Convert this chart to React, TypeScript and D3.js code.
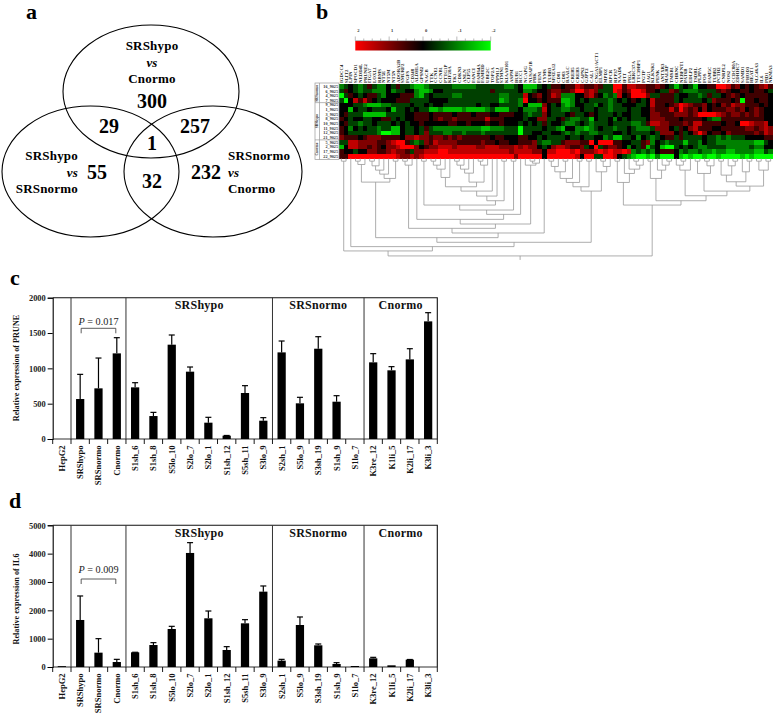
import React, { useEffect, useRef } from 'react';
import * as d3 from 'd3';

const SERIF = '"Liberation Serif", "Times New Roman", serif';
const CATEGORIES = ['HepG2', 'SRShypo', 'SRSnormo', 'Cnormo', 'S1sh_6', 'S1sh_8', 'S5lo_10', 'S2lo_7', 'S2lo_1', 'S1sh_12', 'S5sh_11', 'S3lo_9', 'S2sh_1', 'S5lo_9', 'S3sh_19', 'S1sh_9', 'S1lo_7', 'K3re_12', 'K1li_5', 'K2li_17', 'K3li_3'];
const PRUNE_VALUES = [0, 566, 717, 1212, 731, 325, 1335, 953, 231, 47, 651, 259, 1226, 505, 1278, 528, 0, 1085, 972, 1127, 1665];
const PRUNE_ERR_TOP = [0, 915, 1146, 1434, 797, 377, 1472, 1019, 307, 50, 755, 302, 1387, 590, 1448, 613, 0, 1208, 1024, 1278, 1788];
const IL6_VALUES = [30, 1659, 506, 176, 518, 776, 1341, 4024, 1718, 600, 1541, 2659, 224, 1482, 765, 106, 35, 306, 59, 259, 0];
const IL6_ERR_TOP = [30, 2506, 1000, 270, 520, 859, 1435, 4388, 1976, 718, 1670, 2859, 270, 1765, 812, 153, 35, 341, 59, 265, 0];
const DIVIDERS = [1, 4, 12, 17];
const GROUPS = [
  { label: 'SRShypo', from: 4, to: 12 },
  { label: 'SRSnormo', from: 12, to: 17 },
  { label: 'Cnormo', from: 17, to: 21 },
];

const HEAT_COLUMNS = ['IGDCC4', 'SLIT2', 'LPIN', 'SPOCD1', 'NEDD4L', 'PRUNE2', 'ITGA7', 'LOXL1', 'RBMS', 'NT5E', 'NT5M', 'NT5N', 'ADORA2B', 'SMURF2', 'FGFS', 'CD248', 'ALDH1A', 'GPSM2', 'NACB', 'TTK', 'CCNE1', 'CCNB1', 'PTTG1P', 'KIF20A', 'TK1', 'CDKN3', 'ANLN', 'CEP55', 'FANCI', 'FAM64A', 'FAM83D', 'UBE2C', 'TOP2A', 'PPM1J', 'STMN1', 'KIAA0101', 'ASPM', 'BUB1', 'RCC1', 'NCAPG', 'NUSAP1B', 'PBK', 'FEN1', 'TYMS', 'TUBB3', 'SPATA12', 'CD81', 'CD83', 'BAALC', 'CREB5', 'CREB3', 'CAPN2', 'GJPT2', 'CAL1', 'CNGA1/ACT1', 'ELMP1', 'MPDZ', 'RPCR', 'RFP37', 'NAAD6', 'IFIT', 'PIGA', 'LRRC37A', 'TTC39BP1', 'PGTP', 'JAG1', 'KLKNK1', 'PENK', 'ANTXR3', 'MALRP', 'TMSB1', 'CHRNC', 'NEBFNT1', 'PAT6B', 'EDLP2', 'TSDBL', 'PLPPA', 'FOS', 'FAM5C', 'TUBB2', 'PCTH2', 'CNRPL2', 'NOS2', 'CCDC80A', 'ZDHHC7', 'SAMD1', 'FHOD3', 'HEAT1', 'SLC46A3', 'IL6', 'PID1', 'NKMA3'];
const HEAT_ROW_LABELS = ['16_9025', '6_9025', '4_9025', '7_9025', '9_9025', '1_9025', '3_9025', '8_9025', '10_9025', '11_9025', '12_9025', '21_9025', '5_9025', '2_9025', '17_9025', '22_9025'];
// one digit per cell, 0 = -2 (green), 4 = 0 (black), 8 = +2 (red)
const HEAT_ROWS = [
  '2343235322 4353321123 3333222223 3333322341 1134355455 7655653388 5776655654 3134314455 8875645456 75',
  '3543233222 4233442112 4433333333 3353333342 2344566556 8867633387 5688755433 6532223333 5654455455 43',
  '0354345532 4445552134 3333223333 3333223337 4564576222 4467542327 4588863355 5344332353 3456545555 54',
  '3047575434 4455533334 4443333333 3333123328 4454555112 4343333234 3454347555 5343333436 5554505545 54',
  '4443321112 2333343343 4433333334 3344333324 1116434212 4433243233 4443347554 5687655645 4657665554 54',
  '4414334333 4133434331 1211112111 1231113342 2237433223 3433433233 3433446555 7586564645 5566564565 44',
  '4533311111 3333445554 5555455545 5544555443 2336433345 3345433343 4433446655 5666568888 7656656565 44',
  '5434433445 5343445554 5655655555 5755544443 4466334532 2331433424 3433346665 5545555432 2555555555 44',
  '4533233433 3434344544 4445544544 4544544434 3435344322 3432333433 3322357766 5556577555 5455488766 74',
  '5424343323 3114334353 2222222222 1122233303 3334332144 2212343323 3432223666 4354675554 4555556656 76',
  '5433333320 0114334363 3322332333 2333333303 3443344323 2332233344 3433334366 6453468645 5465555565 76',
  '6555456665 5554667665 6656565555 5545544455 4434333343 3433442311 3342432345 5353333433 2323334444 55',
  '3377666655 6788532365 7666655555 6554554455 5632233566 6558488855 4433562432 3331332433 2222222211 34',
  '1477665654 6678886456 6777677776 6777666767 6643467765 5634835665 4243513410 0343432233 3322222322 44',
  '5443446655 6766536677 7887777777 7777776777 7664778887 8666787877 8723232455 5423223221 2211222211 32',
  '5588888888 8876676788 8888888888 8888888688 8884888888 7488338874 3210010200 0410100100 1000010100 00',
];
const HEAT_GROUPS = [
  { label: 'SRSnormo', from: 0, to: 4 },
  { label: 'SRShypo', from: 4, to: 12 },
  { label: 'Cnormo', from: 12, to: 16 },
];
const COLOR_TICKS = [2, 1, 0, -1, -2];
const COLOR_MINOR = [1.75, 1.5, 1.25, 0.75, 0.5, 0.25, -0.25, -0.5, -0.75, -1.25, -1.5, -1.75];

// dendrogram: merge distance, left, right (numbers are leaf columns)
type Node = number | { h: number; l: Node; r: Node };
const m = (h: number, l: Node, r: Node): Node => ({ h, l, r });
const LADDER = m(238,
  m(71,
    m(18, m(8, 3, 4), 5),
    m(60, m(47, m(35, m(22, m(8, 6, 7), 8), 9), 10), m(8, 11, 12))),
  m(224,
    m(210,
      m(20, m(8, 13, 14), 15),
      m(197,
        m(183, 16,
          m(168,
            m(155,
              m(140, m(8, 17, 18),
                m(127,
                  m(113,
                    m(98,
                      m(85,
                        m(57, m(32, m(20, m(8, 19, 20), 21), 22), 23),
                        m(71, m(44, m(32, m(20, m(8, 24, 25), 26), 27), 28), m(20, m(8, 29, 30), 31))),
                      32),
                    33),
                  m(8, 34, 35))),
              m(8, 36, 37)),
            38)),
        m(20, 39, m(14, m(8, 40, 41), 42)))),
    43));
const MID_BRANCH = m(98,
  m(85, m(72, m(60, m(40, m(24, m(8, 44, 45), 46), m(8, 47, 48)), 49), m(8, 50, 51)), m(8, 52, 53)),
  m(40, 54, m(24, m(8, 55, 56), 57)));
const GREEN_BRANCH = m(140,
  m(72, m(8, 58, 59), m(45, 60, m(32, 61, m(20, m(8, 62, 63), 64)))),
  m(127,
    m(60, m(8, 65, 66), m(35, 67, m(20, 68, m(8, 69, 70)))),
    m(112,
      m(35, m(20, 71, m(8, 72, 73)), 74),
      m(98,
        m(45, m(8, 75, 76), m(22, m(8, 77, 78), 79)),
        m(83,
          m(70, m(50, m(8, 80, 81), m(22, 82, m(8, 83, 84))), m(40, 85, m(8, 86, 87))),
          m(35, m(8, 88, 89), m(8, 90, 91)))))));
const HEAT_TREE: Node = m(293,
  m(278, m(8, 0, 1), m(265, 2, m(252, LADDER, MID_BRANCH))),
  GREEN_BRANCH);

const VENN_SETS = [
  { cx: 151, cy: 91.5, rx: 88, ry: 66.5 },
  { cx: 90.5, cy: 171.5, rx: 88.5, ry: 65.5 },
  { cx: 213, cy: 171.5, rx: 89, ry: 65.5 },
];
const VENN_COUNTS = [
  { text: '300', x: 152, y: 108, size: 20 },
  { text: '29', x: 109, y: 133, size: 20 },
  { text: '257', x: 195, y: 133, size: 20 },
  { text: '1', x: 152, y: 150, size: 20 },
  { text: '55', x: 97, y: 179, size: 20 },
  { text: '32', x: 152, y: 188, size: 20 },
  { text: '232', x: 206, y: 179, size: 20 },
];
const VENN_LABELS = [
  { text: 'SRShypo', x: 152, y: 50, anchor: 'middle' },
  { text: 'vs', x: 152, y: 67, anchor: 'middle', italic: true },
  { text: 'Cnormo', x: 152, y: 83, anchor: 'middle' },
  { text: 'SRShypo', x: 78, y: 160, anchor: 'end' },
  { text: 'vs', x: 78, y: 177, anchor: 'end', italic: true },
  { text: 'SRSnormo', x: 78, y: 193, anchor: 'end' },
  { text: 'SRSnormo', x: 228, y: 160, anchor: 'start' },
  { text: 'vs', x: 228, y: 177, anchor: 'start', italic: true },
  { text: 'Cnormo', x: 228, y: 193, anchor: 'start' },
];
const PANEL_LETTERS = [
  { text: 'a', x: 26, y: 19 },
  { text: 'b', x: 316, y: 19 },
  { text: 'c', x: 10, y: 285 },
  { text: 'd', x: 9, y: 508 },
];

type Sel = d3.Selection<SVGGElement, unknown, null, undefined>;

function drawVenn(g: Sel) {
  g.selectAll('ellipse').data(VENN_SETS).join('ellipse')
    .attr('cx', d => d.cx).attr('cy', d => d.cy).attr('rx', d => d.rx).attr('ry', d => d.ry)
    .attr('fill', 'none').attr('stroke', '#000').attr('stroke-width', 1.1);
  g.selectAll('text.count').data(VENN_COUNTS).join('text').attr('class', 'count')
    .attr('x', d => d.x).attr('y', d => d.y).attr('text-anchor', 'middle')
    .attr('font-size', d => d.size).attr('font-weight', 'bold').text(d => d.text);
  g.selectAll<SVGTextElement, any>('text.label').data(VENN_LABELS).join('text').attr('class', 'label')
    .attr('x', d => d.x).attr('y', d => d.y).attr('text-anchor', d => d.anchor)
    .attr('font-size', 13).attr('font-weight', 'bold')
    .attr('font-style', (d: any) => (d.italic ? 'italic' : 'normal'))
    .attr('letter-spacing', 0.2)
    .text(d => d.text);
}

function drawHeatmap(g: Sel) {
  const left = 339, right = 773, top = 84, bottom = 158.5;
  const cols = d3.range(HEAT_COLUMNS.length);
  const x = d3.scaleBand<number>().domain(cols).range([left, right]);
  const y = d3.scaleBand<number>().domain(d3.range(HEAT_ROWS.length)).range([top, bottom]);
  const color = d3.scaleLinear<string>().domain([-2, 0, 2]).range(['#00ff00', '#000000', '#ff0000']);

  const cells = HEAT_ROWS.flatMap((row, r) =>
    row.replace(/ /g, '').split('').map((ch, c) => ({ r, c, v: (+ch - 4) / 2 })));
  g.append('g').attr('shape-rendering', 'crispEdges').selectAll('rect').data(cells).join('rect')
    .attr('x', d => x(d.c)!).attr('y', d => y(d.r)!)
    .attr('width', x.bandwidth() + 0.3).attr('height', y.bandwidth() + 0.3)
    .attr('fill', d => color(d.v));

  g.append('g').selectAll('text').data(HEAT_COLUMNS).join('text')
    .attr('transform', (_, i) => `translate(${x(i)! + x.bandwidth() / 2 + 1.6},83) rotate(-90)`)
    .attr('font-size', 4.8).attr('font-weight', 'bold').attr('fill', '#222').text(d => d);

  // row labels and group frame
  const frame = g.append('g').attr('stroke', '#999').attr('stroke-width', 0.7).attr('fill', 'none');
  frame.append('rect').attr('x', 315).attr('y', top - 1).attr('width', left - 315).attr('height', bottom - top + 2);
  frame.append('line').attr('x1', 319.5).attr('x2', 319.5).attr('y1', top - 1).attr('y2', bottom + 1);
  HEAT_GROUPS.slice(1).forEach(gr => {
    frame.append('line').attr('x1', 315).attr('x2', left).attr('y1', y(gr.from)!).attr('y2', y(gr.from)!);
  });
  g.append('g').selectAll('text').data(HEAT_ROW_LABELS).join('text')
    .attr('x', 338).attr('y', (_, i) => y(i)! + y.bandwidth() - 0.8).attr('text-anchor', 'end')
    .attr('font-size', 4.2).attr('font-weight', 'bold').attr('fill', '#333').text(d => d);
  g.append('g').selectAll('text').data(HEAT_GROUPS).join('text')
    .attr('transform', d => `translate(318,${(y(d.from)! + y(d.to - 1)! + y.bandwidth()) / 2}) rotate(-90)`)
    .attr('text-anchor', 'middle').attr('font-size', 3.6).attr('font-weight', 'bold').attr('fill', '#333').text(d => d.label);

  // colour bar
  const bar = d3.scaleLinear().domain([2, -2]).range([355.3, 490.7]);
  const gradId = 'heat-grad';
  const grad = g.append('defs').append('linearGradient').attr('id', gradId);
  COLOR_TICKS.forEach((t, i) => {
    grad.append('stop').attr('offset', i / (COLOR_TICKS.length - 1)).attr('stop-color', color(t));
  });
  g.append('rect').attr('x', bar(2)).attr('y', 41).attr('width', bar(-2) - bar(2)).attr('height', 9.5).attr('fill', `url(#${gradId})`);
  g.append('line').attr('x1', bar(2)).attr('x2', bar(-2)).attr('y1', 40.7).attr('y2', 40.7).attr('stroke', '#777').attr('stroke-width', 0.6);
  g.append('g').selectAll('line').data([...COLOR_TICKS, ...COLOR_MINOR]).join('line')
    .attr('x1', d => bar(d)).attr('x2', d => bar(d)).attr('y1', 40.7)
    .attr('y2', d => (Number.isInteger(d) ? 36.5 : 38.5)).attr('stroke', '#777').attr('stroke-width', 0.5);
  g.append('g').selectAll('text').data(COLOR_TICKS).join('text')
    .attr('x', d => bar(d) + 3).attr('y', 32).attr('text-anchor', 'middle')
    .attr('font-size', 4.5).attr('font-weight', 'bold').attr('fill', '#333').text(d => d);

  // dendrogram
  const dist = d3.scaleLinear().domain([0, 295]).range([158.5, 256.6]);
  const lines = g.append('g').attr('stroke', '#999').attr('stroke-width', 0.8).attr('fill', 'none');
  const layout = (n: Node): { px: number; h: number } => {
    if (typeof n === 'number') return { px: x(n)! + x.bandwidth() / 2, h: 0 };
    const a = layout(n.l), b = layout(n.r);
    const ny = dist(n.h);
    lines.append('path').attr('d', `M${a.px},${dist(a.h)}V${ny}H${b.px}V${dist(b.h)}`);
    return { px: (a.px + b.px) / 2, h: n.h };
  };
  const root = layout(HEAT_TREE);
  lines.append('line').attr('x1', root.px).attr('x2', root.px).attr('y1', dist(root.h)).attr('y2', dist(305));
}

interface BarConfig {
  top: number;
  zero: number;
  max: number;
  ticks: number[];
  values: number[];
  errTop: number[];
  title: string;
  titleY: number;
  pText: string;
  pBaseline: number;
  bracketTop: number;
}

function drawBars(g: Sel, c: BarConfig) {
  const left = 52.7, right = 437.3;
  const x = d3.scaleBand<string>().domain(CATEGORIES).range([left, right]).paddingInner(0.55).paddingOuter(0.275);
  const y = d3.scaleLinear().domain([0, c.max]).range([c.zero, c.top]);
  const step = x.step();
  const boundary = (i: number) => left + i * step;

  const axis = g.append('g').attr('transform', `translate(${left},0)`)
    .call(d3.axisLeft(y).tickValues(c.ticks).tickFormat(d3.format('d') as any).tickSize(5).tickPadding(2));
  axis.select('.domain').attr('stroke', '#000').attr('stroke-width', 1.1);
  axis.selectAll('line').attr('stroke', '#000').attr('stroke-width', 1);
  axis.selectAll('text').attr('font-family', SERIF).attr('font-size', 8.4).attr('font-weight', 'bold').attr('fill', '#222');

  // frame, baseline and group dividers
  g.append('path').attr('d', `M${left},${c.top}H${right}V${c.zero}`).attr('fill', 'none').attr('stroke', '#111').attr('stroke-width', 1.1);
  g.append('line').attr('x1', left).attr('x2', right).attr('y1', c.zero).attr('y2', c.zero).attr('stroke', '#333').attr('stroke-width', 1.1);
  g.selectAll('line.divider').data(DIVIDERS).join('line').attr('class', 'divider')
    .attr('x1', d => boundary(d)).attr('x2', d => boundary(d)).attr('y1', c.top).attr('y2', c.zero)
    .attr('stroke', '#333').attr('stroke-width', 1);
  g.selectAll('line.xtick').data(d3.range(CATEGORIES.length + 1)).join('line').attr('class', 'xtick')
    .attr('x1', d => boundary(d)).attr('x2', d => boundary(d)).attr('y1', c.zero).attr('y2', c.zero + 5)
    .attr('stroke', '#000').attr('stroke-width', 0.9);

  // error bars then bars
  const bw = x.bandwidth();
  const err = g.append('g').attr('stroke', '#000').attr('fill', 'none');
  CATEGORIES.forEach((cat, i) => {
    if (c.errTop[i] <= c.values[i]) return;
    const cx = x(cat)! + bw / 2;
    err.append('path').attr('d', `M${cx},${y(c.values[i])}V${y(c.errTop[i])}`).attr('stroke-width', 1.2);
    err.append('path').attr('d', `M${cx - 3},${y(c.errTop[i])}H${cx + 3}`).attr('stroke-width', 1.2);
  });
  g.selectAll('rect.bar').data(CATEGORIES).join('rect').attr('class', 'bar')
    .attr('x', d => x(d)!).attr('width', bw)
    .attr('y', (_, i) => y(c.values[i])).attr('height', (_, i) => c.zero - y(c.values[i]))
    .attr('fill', '#000');

  g.selectAll('text.cat').data(CATEGORIES).join('text').attr('class', 'cat')
    .attr('transform', d => `translate(${x(d)! + bw / 2 + 3},${c.zero + 6.5}) rotate(-90)`)
    .attr('text-anchor', 'end').attr('font-size', 8.5).attr('font-weight', 'bold').attr('fill', '#111').text(d => d);

  g.selectAll('text.group').data(GROUPS).join('text').attr('class', 'group')
    .attr('x', d => (boundary(d.from) + boundary(d.to)) / 2)
    .attr('y', c.top + 11.5).attr('text-anchor', 'middle')
    .attr('font-size', 12).attr('font-weight', 'bold').attr('letter-spacing', 0.25).attr('fill', '#111').text(d => d.label);

  g.append('text').attr('transform', `translate(19,${c.titleY}) rotate(-90)`)
    .attr('text-anchor', 'middle').attr('font-size', 8.2).attr('font-weight', 'bold').attr('fill', '#111').text(c.title);

  // significance bracket between SRShypo and Cnormo
  const bx1 = x('SRShypo')! + bw / 2 + 1, bx2 = x('Cnormo')! + bw / 2 - 1;
  g.append('path').attr('d', `M${bx1},${c.bracketTop + 5}V${c.bracketTop}H${bx2}V${c.bracketTop + 5}`)
    .attr('fill', 'none').attr('stroke', '#333').attr('stroke-width', 0.8);
  const p = g.append('text').attr('x', 98.5).attr('y', c.pBaseline).attr('text-anchor', 'middle').attr('font-size', 10.2).attr('fill', '#222');
  p.append('tspan').attr('font-style', 'italic').text('P');
  p.append('tspan').text(` = ${c.pText}`);
}

const App: React.FC = () => {
  const svgRef = useRef<SVGSVGElement>(null);

  useEffect(() => {
    const svg = d3.select(svgRef.current);
    svg.selectAll('*').remove();
    svg.attr('font-family', SERIF);

    svg.selectAll('text.letter').data(PANEL_LETTERS).join('text').attr('class', 'letter')
      .attr('x', d => d.x).attr('y', d => d.y)
      .attr('font-size', 22).attr('font-weight', 'bold').text(d => d.text);

    drawVenn(svg.append('g') as any);
    drawHeatmap(svg.append('g') as any);
    drawBars(svg.append('g') as any, {
      top: 297.7, zero: 439, max: 2000, ticks: [0, 500, 1000, 1500, 2000],
      values: PRUNE_VALUES, errTop: PRUNE_ERR_TOP,
      title: 'Relative expression of PRUNE', titleY: 368,
      pText: '0.017', pBaseline: 325, bracketTop: 328.3,
    });
    drawBars(svg.append('g') as any, {
      top: 525.3, zero: 667, max: 5000, ticks: [0, 1000, 2000, 3000, 4000, 5000],
      values: IL6_VALUES, errTop: IL6_ERR_TOP,
      title: 'Relative expression of IL6', titleY: 599,
      pText: '0.009', pBaseline: 573, bracketTop: 579,
    });
  }, []);

  return (
    <svg ref={svgRef} width={778} height={715}
      style={{ position: 'absolute', left: 0, top: 0, background: '#fff', display: 'block' }} />
  );
};

export default App;
